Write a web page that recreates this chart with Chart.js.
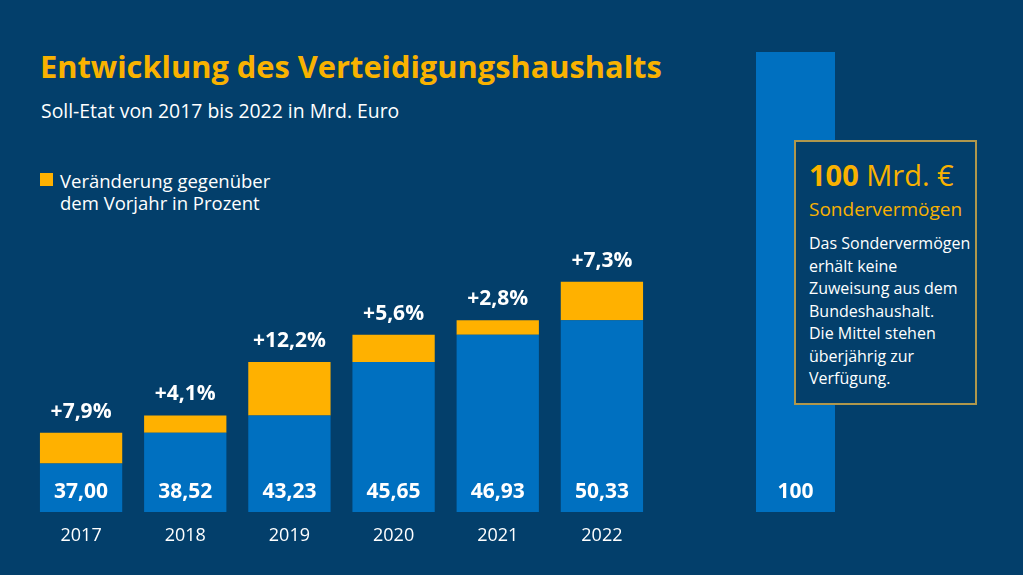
<!DOCTYPE html>
<html lang="de">
<head>
<meta charset="utf-8">
<title>Entwicklung des Verteidigungshaushalts</title>
<script src="https://cdn.jsdelivr.net/npm/chart.js@4.4.0/dist/chart.umd.min.js"></script>
<style>
  html, body { margin: 0; padding: 0; }
  body {
    width: 1023px; height: 575px; position: relative; overflow: hidden;
    background: #033f6b; font-family: "Open Sans", sans-serif; color: #ffffff;
  }
  .abs { position: absolute; white-space: nowrap; line-height: 1; }
  #title { left: 40px; top: 51px; font-size: 30.8px; font-weight: 700; color: #f9b200; }
  #subtitle { left: 41px; top: 101px; font-size: 19.4px; font-weight: 400; }
  #legend { left: 40px; top: 170px; font-size: 18.5px; line-height: 22px; white-space: nowrap; }
  #legend .sw { position: absolute; left: 0; top: 3px; width: 13px; height: 13px; background: #ffb100; }
  #legend .txt { position: absolute; left: 20px; top: 0; }
  #c1 { position: absolute; left: 29px; top: 40px; }
  #c2 { position: absolute; left: 756px; top: 52px; }
  #box {
    position: absolute; left: 794px; top: 140px; width: 183px; height: 265px;
    box-sizing: border-box; border: 2px solid #b0974c; background: #033f6b;
  }
  #box .big { position: absolute; left: 13px; top: 18px; font-size: 29px; color: #f9b200; line-height: 1; white-space: nowrap; }
  #box .big b { font-weight: 700; }
  #box .sub { position: absolute; left: 13px; top: 58px; font-size: 19px; color: #f9b200; line-height: 1; white-space: nowrap; }
  #box .body { position: absolute; left: 13px; top: 90px; font-size: 16px; line-height: 22.5px; color: #ffffff; white-space: nowrap; }
</style>
</head>
<body>
<div id="title" class="abs">Entwicklung des Verteidigungshaushalts</div>
<div id="subtitle" class="abs">Soll-Etat von 2017 bis 2022 in Mrd. Euro</div>
<div id="legend" class="abs"><span class="sw"></span><span class="txt">Veränderung gegenüber<br>dem Vorjahr in Prozent</span></div>

<canvas id="c1" width="625" height="512"></canvas>
<canvas id="c2" width="79" height="460"></canvas>

<div id="box">
  <div class="big"><b>100</b> Mrd. €</div>
  <div class="sub">Sondervermögen</div>
  <div class="body">Das Sondervermögen<br>erhält keine<br>Zuweisung aus dem<br>Bundeshaushalt.<br>Die Mittel stehen<br>überjährig zur<br>Verfügung.</div>
</div>

<script>
// ---- Data (Soll-Etat in Mrd. Euro) ----
const years = ['2017', '2018', '2019', '2020', '2021', '2022'];
const budget = [37.00, 38.52, 43.23, 45.65, 46.93, 50.33];       // value labels
const previousYear = [34.29, 37.00, 38.52, 43.23, 45.65, 46.93]; // blue bar top (Vorjahr)
const changePct = [7.9, 4.1, 12.2, 5.6, 2.8, 7.3];                // Veränderung ggü. Vorjahr
const specialLabels = ['Sondervermögen'];
const specialFund = [100];

// ---- Styles ----
const BLUE = '#0070c0';
const YELLOW = '#ffb100';
const FONT = '"Open Sans", sans-serif';
Chart.defaults.font.family = FONT;
Chart.defaults.color = '#ffffff';

const de = (v, d) => v.toFixed(d).replace('.', ',');

const labelPlugin = {
  id: 'barLabels',
  afterDatasetsDraw(chart) {
    const { ctx, scales: { x, y } } = chart;
    const bottom = y.getPixelForValue(y.min);
    ctx.save();
    ctx.fillStyle = '#ffffff';
    ctx.textAlign = 'center';
    ctx.textBaseline = 'middle';
    years.forEach((yr, i) => {
      const cx = x.getPixelForValue(i);
      ctx.font = '700 21px ' + FONT;
      ctx.fillText(de(budget[i], 2), cx, bottom - 20);
      ctx.fillText('+' + de(changePct[i], 1) + '%', cx, y.getPixelForValue(budget[i]) - 21);
      ctx.font = '400 18px ' + FONT;
      ctx.fillText(yr, cx, bottom + 24);
    });
    ctx.restore();
  }
};

new Chart(document.getElementById('c1'), {
  type: 'bar',
  data: {
    labels: years,
    datasets: [
      {
        label: 'Soll-Etat',
        data: previousYear,
        backgroundColor: BLUE,
        borderWidth: 0,
        barPercentage: 0.79,
        categoryPercentage: 1
      },
      {
        label: 'Veränderung gegenüber dem Vorjahr in Prozent',
        data: budget.map((v, i) => [previousYear[i], v]),
        backgroundColor: YELLOW,
        borderWidth: 0,
        barPercentage: 0.79,
        categoryPercentage: 1
      }
    ]
  },
  options: {
    responsive: false,
    animation: false,
    layout: { padding: { top: 0, left: 0, right: 0, bottom: 40 } },
    plugins: { legend: { display: false }, tooltip: { enabled: false }, title: { display: false } },
    scales: {
      x: { display: false, stacked: true },
      y: { display: false, stacked: false, min: 30, max: 71.66 }
    }
  },
  plugins: [labelPlugin]
});

const specialPlugin = {
  id: 'specialLabel',
  afterDatasetsDraw(chart) {
    const { ctx, scales: { x, y } } = chart;
    ctx.save();
    ctx.fillStyle = '#ffffff';
    ctx.textAlign = 'center';
    ctx.textBaseline = 'middle';
    ctx.font = '700 21px ' + FONT;
    specialFund.forEach((v, i) => {
      ctx.fillText(String(v), x.getPixelForValue(i), y.getPixelForValue(0) - 20);
    });
    ctx.restore();
  }
};

new Chart(document.getElementById('c2'), {
  type: 'bar',
  data: {
    labels: specialLabels,
    datasets: [{
      label: 'Sondervermögen',
      data: specialFund,
      backgroundColor: BLUE,
      borderWidth: 0,
      barPercentage: 1,
      categoryPercentage: 1
    }]
  },
  options: {
    responsive: false,
    animation: false,
    layout: { padding: 0 },
    plugins: { legend: { display: false }, tooltip: { enabled: false } },
    scales: {
      x: { display: false },
      y: { display: false, min: 0, max: 100 }
    }
  },
  plugins: [specialPlugin]
});
</script>
</body>
</html>
